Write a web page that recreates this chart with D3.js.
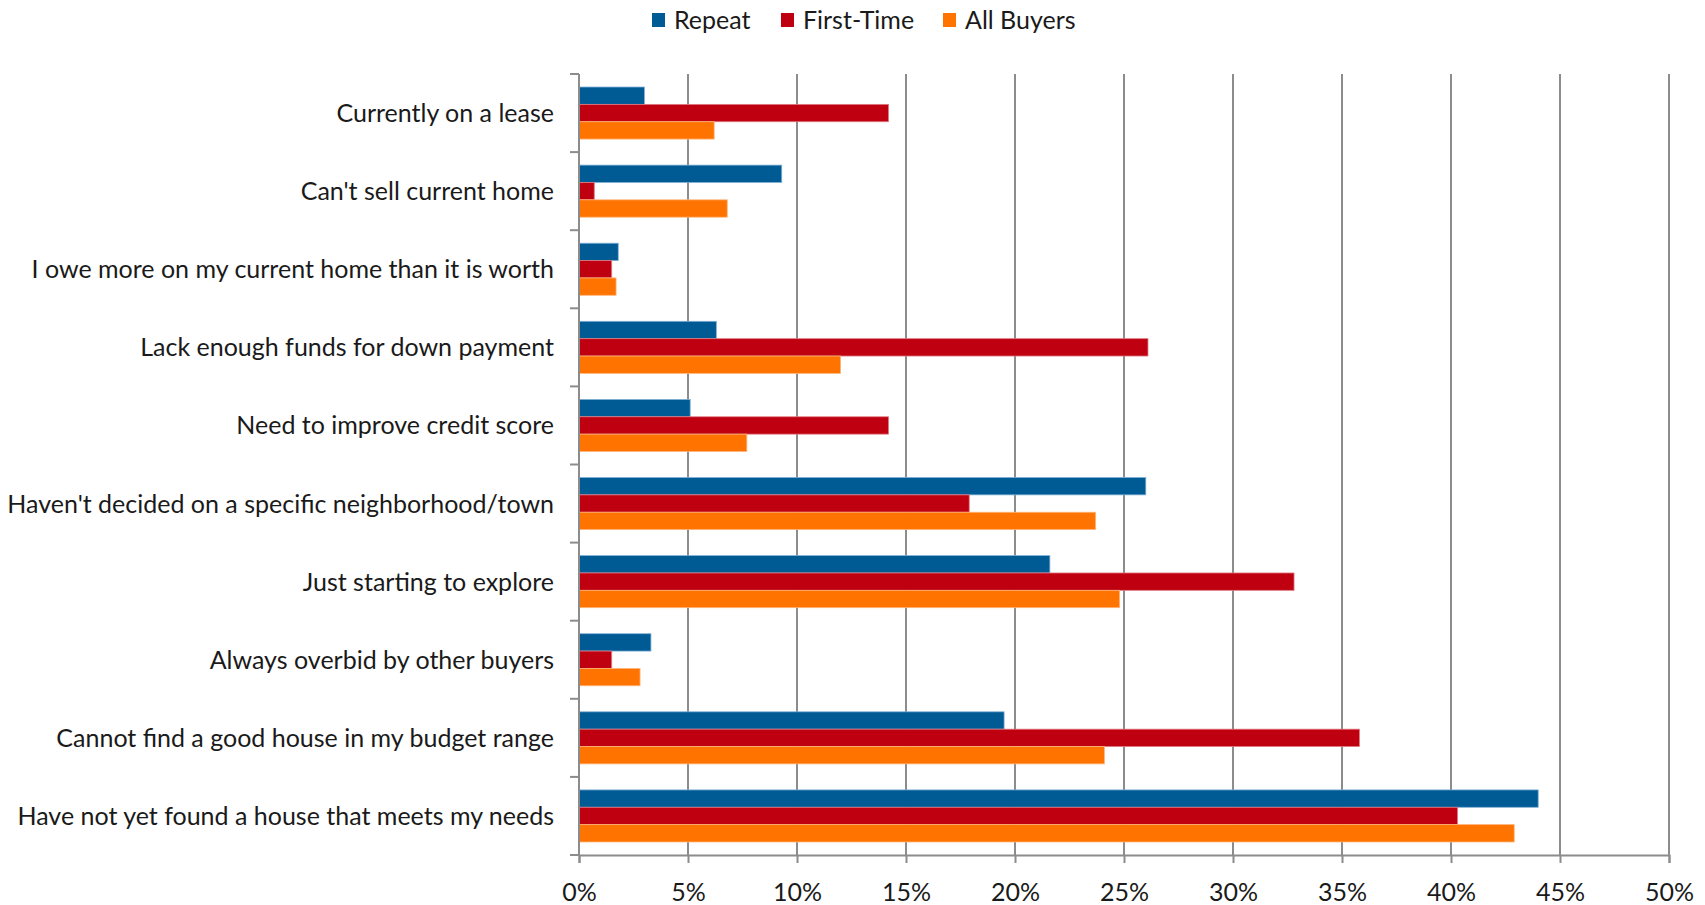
<!DOCTYPE html>
<html><head><meta charset="utf-8">
<script src="https://cdn.jsdelivr.net/npm/d3@7"></script>
<style>
html,body{margin:0;padding:0;background:#fff;}
svg text{font-family:Lato, "Open Sans", sans-serif;fill:#1a1a1a;}
</style></head>
<body>
<svg id="chart" width="1705" height="905"></svg>
<script>
const categories = [
  "Currently on a lease",
  "Can't sell current home",
  "I owe more on my current home than it is worth",
  "Lack enough funds for down payment",
  "Need to improve credit score",
  "Haven't decided on a specific neighborhood/town",
  "Just starting to explore",
  "Always overbid by other buyers",
  "Cannot find a good house in my budget range",
  "Have not yet found a house that meets my needs"
];
const seriesNames = ["Repeat", "First-Time", "All Buyers"];
const repeat    = [3.0, 9.3, 1.8, 6.3, 5.1, 26.0, 21.6, 3.3, 19.5, 44.0];
const firstTime = [14.2, 0.7, 1.5, 26.1, 14.2, 17.9, 32.8, 1.5, 35.8, 40.3];
const allBuyers = [6.2, 6.8, 1.7, 12.0, 7.7, 23.7, 24.8, 2.8, 24.1, 42.9];
const xTicks = [0, 5, 10, 15, 20, 25, 30, 35, 40, 45, 50];

(function() {
const colors = ["#005a94", "#be0010", "#ff7400"];
const strokes = ["#7fb0d6", "#e07a82", "#ffb47a"];

const seriesValues = [repeat, firstTime, allBuyers];
const svg = d3.select("#chart");
const pl = 579, pr = 1669, pt = 74, pb = 855;

const x = d3.scaleLinear().domain([0, 50]).range([pl, pr]);
const y = d3.scaleBand().domain(categories).range([pt, pb]).paddingInner(0).paddingOuter(0);
const ySub = d3.scaleBand().domain(seriesNames).range([0, y.bandwidth()]).paddingInner(0).paddingOuter(0.75);

// gridlines
svg.append("g").selectAll("line").data(xTicks.filter(d => d > 0)).join("line")
  .attr("x1", d => x(d)).attr("x2", d => x(d))
  .attr("y1", pt).attr("y2", pb)
  .attr("stroke", "#8c8c8c").attr("stroke-width", 2);

// bars
const groups = svg.append("g").selectAll("g").data(categories).join("g")
  .attr("transform", c => `translate(0,${y(c)})`);
groups.each(function(c, i) {
  d3.select(this).selectAll("rect").data(seriesNames).join("rect")
    .attr("x", x(0))
    .attr("y", s => ySub(s))
    .attr("width", (s, j) => x(seriesValues[j][i]) - x(0))
    .attr("height", ySub.bandwidth())
    .attr("fill", (s, j) => colors[j])
    .attr("stroke", (s, j) => strokes[j])
    .attr("stroke-width", 0.8);
});

// y axis
const yAxis = svg.append("g");
yAxis.append("line").attr("x1", pl).attr("x2", pl).attr("y1", pt).attr("y2", pb)
  .attr("stroke", "#8c8c8c").attr("stroke-width", 2);
const boundaries = categories.map(c => y(c)).concat([pb]);
yAxis.selectAll("line.tick").data(boundaries).join("line").attr("class", "tick")
  .attr("x1", pl - 9).attr("x2", pl).attr("y1", d => d).attr("y2", d => d)
  .attr("stroke", "#8c8c8c").attr("stroke-width", 2);
yAxis.selectAll("text").data(categories).join("text")
  .attr("x", pl - 25).attr("y", c => y(c) + y.bandwidth() / 2 - 1)
  .attr("text-anchor", "end").attr("dominant-baseline", "central")
  .attr("font-size", 25).text(c => c);

// x axis
const xAxis = svg.append("g").attr("transform", `translate(0,${pb})`)
  .call(d3.axisBottom(x).tickValues(xTicks).tickFormat(d => d + "%").tickSize(8).tickPadding(20));
xAxis.select(".domain").attr("stroke", "#8c8c8c").attr("stroke-width", 2);
xAxis.selectAll(".tick line").attr("stroke", "#8c8c8c").attr("stroke-width", 2);
xAxis.selectAll(".tick text").attr("font-size", 25).attr("font-family", "Lato, sans-serif").attr("fill", "#1a1a1a");

// legend
const legendX = [652, 781, 943];
const legend = svg.append("g").selectAll("g").data(seriesNames).join("g")
  .attr("transform", (s, i) => `translate(${legendX[i]},0)`);
legend.append("rect").attr("x", 0).attr("y", 13).attr("width", 13).attr("height", 14)
  .attr("fill", (s, i) => colors[i]);
legend.append("text").attr("x", 22).attr("y", 19).attr("dominant-baseline", "central")
  .attr("font-size", 25).text(s => s);
})();
</script>
</body></html>
